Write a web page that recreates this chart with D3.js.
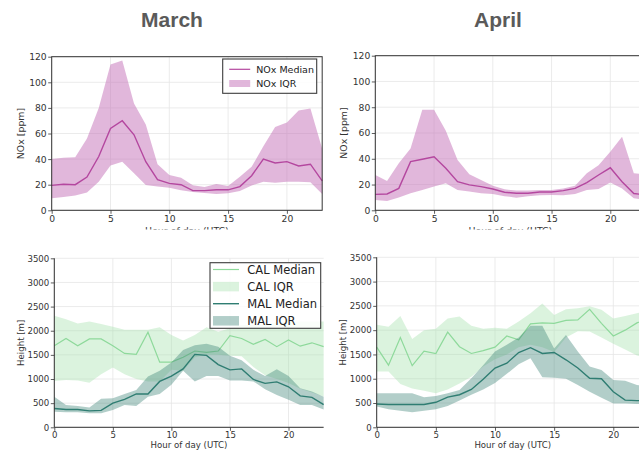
<!DOCTYPE html>
<html>
<head>
<meta charset="utf-8">
<script src="https://cdn.jsdelivr.net/npm/d3@7"></script>
<style>
  body { margin: 0; background: #fff; }
  svg { display: block; font-family: "DejaVu Sans", sans-serif; }
  .grid line { stroke: #e6e6e6; stroke-width: 0.8; }
  .axis path { display: none; }
  .axis line { stroke: #333; stroke-width: 0.8; }
  .axis text { fill: #333; }
</style>
</head>
<body>
<div id="vis"></div>
<script>
// Diurnal NOx and boundary layer height, March vs April

const HOURS = [0,1,2,3,4,5,6,7,8,9,10,11,12,13,14,15,16,17,18,19,20,21,22,23];
const X_TICKS = [0, 5, 10, 15, 20];
const NOX_TICKS = [0, 20, 40, 60, 80, 100, 120];
const HEIGHT_TICKS = [0, 500, 1000, 1500, 2000, 2500, 3000, 3500];
const MONTHS = ["March", "April"];

// NOx [ppm]
const marNoxMed = [19.5,20.3,20,26,42,64,70,59,38,24,21,20,15.4,15.4,16,16,18.5,27,40,37,38,34.6,36,23];
const marNoxHi  = [40,41,41.4,56,80,114,117,83.5,67,36,27.6,25.5,19.5,18.2,20.5,19,26.3,34,50,65,68.5,78,79.6,48];
const marNoxLo  = [9.4,10.4,11.5,14,22.4,35,38,29,19.8,18.5,17.7,15.6,14.3,13.5,12.8,13.3,15,19.3,22.4,21.6,22.4,22.4,22,12.8];

const aprNoxMed = [12.4,12.7,17,37.8,39.6,41.6,32.6,22.2,19.7,18.4,16.5,14,13.2,13.2,14.2,14.2,15.3,17,21.5,27.4,33,22.2,13,12];
const aprNoxHi  = [27.4,22.8,36.5,48,78,78,61.8,39,28,23.5,19,16.3,15.3,15.3,15.8,15.8,17,19,28.7,35,45.5,57,28.7,28];
const aprNoxLo  = [8,7.2,10,13.2,15.8,18.4,21,15.8,14.5,13.2,12.7,11,9.8,11,11.6,11.9,11.6,12.7,15.8,16.5,21.5,17,9.3,8];

// Height [m]
const marCalMed = [1690,1840,1690,1830,1830,1690,1530,1510,1970,1350,1350,1450,1580,1550,1580,1900,1840,1720,1820,1670,1810,1680,1750,1670];
const marCalHi  = [2310,2240,2150,2190,2140,2080,2020,2020,2020,2070,1910,1800,1910,2070,1980,2050,2120,2120,2140,2170,2190,2190,2190,2190];
const marCalLo  = [960,980,970,925,1100,1240,1100,1000,950,950,1190,1170,1450,1500,1500,1480,1470,1250,1080,1000,920,800,720,640];
const marMalMed = [390,370,370,340,350,500,580,690,690,950,1060,1210,1510,1490,1300,1190,1210,990,910,940,840,650,620,470];
const marMalHi  = [635,460,440,410,590,600,690,770,1050,1170,1340,1600,1700,1730,1670,1480,1390,1190,1060,1200,1060,810,740,635];
const marMalLo  = [320,310,310,290,290,360,460,440,635,690,880,1170,950,1060,1060,970,970,950,790,670,570,460,460,370];

const aprCalMed = [1650,1280,1850,1270,1570,1520,1960,1660,1520,1580,1650,1880,1800,2130,2150,2140,2200,2210,2430,2140,1880,2000,2150,2250];
const aprCalHi  = [2110,2070,2290,1820,2000,2030,2240,2280,2090,2030,2050,2030,2180,2350,2550,2310,2430,2450,2490,2420,2240,2290,2350,2400];
const aprCalLo  = [1150,1150,890,800,750,700,780,900,1040,1250,1400,1500,1650,1700,1650,1550,1850,1980,1970,1850,1720,1600,1480,1400];
const aprMalMed = [480,470,470,470,470,515,620,670,780,990,1220,1320,1540,1640,1520,1540,1390,1220,1010,1000,730,560,550,550];
const aprMalHi  = [700,700,700,700,620,645,700,770,1010,1280,1560,1700,1850,2090,2090,1620,1900,1560,1250,1180,975,960,870,850];
const aprMalLo  = [430,370,340,310,340,370,440,550,670,780,910,1100,1300,1420,1030,1020,1000,870,730,610,490,490,480,480];

const NOX_LINE = "#b4479f", NOX_FILL = "#c470b8";
const CAL_LINE = "#8ed99b", CAL_FILL = "#a6e2ad";
const MAL_LINE = "#2f7d72", MAL_FILL = "#3f8479";

const FRAME = d3.select("#vis").append("svg")
    .attr("width", 639)
    .attr("height", 452);

function rows(med, lo, hi) {
  return HOURS.map((h, i) => ({ h: h, med: med[i], lo: lo[i], hi: hi[i] }));
}

// one subplot
function drawPanel(p) {
  const X = d3.scaleLinear().domain([0, 23]).range([p.x0, p.x0 + 23 * p.pxh]);
  const Y = d3.scaleLinear().domain([0, p.yMax]).range([p.yB, p.yT]);
  const g = FRAME.append("g");

  // grid
  const grid = g.append("g").attr("class", "grid");
  grid.selectAll("vx").data(X_TICKS).enter().append("line")
      .attr("x1", d => X(d)).attr("x2", d => X(d))
      .attr("y1", p.yB).attr("y2", p.yT);
  grid.selectAll("hy").data(p.yTicks).enter().append("line")
      .attr("x1", X(0)).attr("x2", X(23))
      .attr("y1", d => Y(d)).attr("y2", d => Y(d));

  // bands and medians
  p.series.forEach(s => {
    const data = rows(s.med, s.lo, s.hi);
    g.append("path").datum(data)
      .attr("d", d3.area().x(d => X(d.h)).y0(d => Y(d.lo)).y1(d => Y(d.hi)))
      .attr("fill", s.fill).attr("fill-opacity", s.alpha);
    g.append("path").datum(data)
      .attr("d", d3.line().x(d => X(d.h)).y(d => Y(d.med)))
      .attr("fill", "none").attr("stroke", s.line).attr("stroke-width", s.lw);
  });

  // axes
  g.append("g").attr("class", "axis")
    .attr("transform", "translate(0," + p.yB + ")")
    .call(d3.axisBottom(X).tickValues(X_TICKS).tickSize(3.5).tickPadding(p.xPad).tickFormat(d3.format("d")))
    .attr("font-size", p.tickFs + "px").attr("font-family", null);
  g.append("g").attr("class", "axis")
    .attr("transform", "translate(" + X(0) + ",0)")
    .call(d3.axisLeft(Y).tickValues(p.yTicks).tickSize(3.5).tickPadding(1.5).tickFormat(d3.format("d")))
    .attr("font-size", p.tickFs + "px").attr("font-family", null);

  // spines
  if (p.box) {
    g.append("rect").attr("x", X(0)).attr("y", p.yT)
      .attr("width", X(23) - X(0)).attr("height", p.yB - p.yT)
      .attr("fill", "none").attr("stroke", "#333").attr("stroke-width", 1);
  } else {
    g.append("path")
      .attr("d", "M" + X(0) + "," + p.yT + "V" + p.yB + "H" + X(23))
      .attr("fill", "none").attr("stroke", "#333").attr("stroke-width", 1);
  }

  // labels
  g.append("text")
    .attr("transform", "translate(" + p.ylx + "," + (p.yT + p.yB) / 2 + ") rotate(-90)")
    .attr("text-anchor", "middle").attr("font-size", p.labFs + "px").attr("fill", "#333")
    .text(p.ylabel);
  g.append("text")
    .attr("x", (X(0) + X(23)) / 2).attr("y", p.xly)
    .attr("text-anchor", "middle").attr("font-size", p.labFs + "px").attr("fill", "#333")
    .text("Hour of day (UTC)");

  if (p.legend) drawLegend(p.legend);
}

function drawLegend(L) {
  const g = FRAME.append("g");
  g.append("rect").attr("x", L.x).attr("y", L.y).attr("width", L.w).attr("height", L.h)
    .attr("fill", "#fff").attr("fill-opacity", 0.85)
    .attr("stroke", "#3c3c3c").attr("stroke-width", 1.1);
  L.items.forEach((it, i) => {
    const cy = L.y + L.first + i * L.step;
    if (it.type === "line") {
      g.append("line").attr("x1", L.x + L.sx).attr("x2", L.x + L.sx + L.sw)
        .attr("y1", cy).attr("y2", cy).attr("stroke", it.color).attr("stroke-width", it.lw);
    } else {
      g.append("rect").attr("x", L.x + L.sx).attr("y", cy - L.ph / 2)
        .attr("width", L.sw).attr("height", L.ph)
        .attr("fill", it.color).attr("fill-opacity", it.alpha);
    }
    g.append("text").attr("x", L.x + L.tx).attr("y", cy).attr("dy", "0.36em")
      .attr("font-size", L.fs + "px").attr("fill", "#222").text(it.label);
  });
}

const noxMar = [{ med: marNoxMed, lo: marNoxLo, hi: marNoxHi, line: NOX_LINE, fill: NOX_FILL, alpha: 0.5, lw: 1.4 }];
const noxApr = [{ med: aprNoxMed, lo: aprNoxLo, hi: aprNoxHi, line: NOX_LINE, fill: NOX_FILL, alpha: 0.5, lw: 1.4 }];
const hMar = [
  { med: marCalMed, lo: marCalLo, hi: marCalHi, line: CAL_LINE, fill: CAL_FILL, alpha: 0.4, lw: 1.2 },
  { med: marMalMed, lo: marMalLo, hi: marMalHi, line: MAL_LINE, fill: MAL_FILL, alpha: 0.4, lw: 1.4 }
];
const hApr = [
  { med: aprCalMed, lo: aprCalLo, hi: aprCalHi, line: CAL_LINE, fill: CAL_FILL, alpha: 0.4, lw: 1.2 },
  { med: aprMalMed, lo: aprMalLo, hi: aprMalHi, line: MAL_LINE, fill: MAL_FILL, alpha: 0.4, lw: 1.4 }
];

// top row
drawPanel({ x0: 51.7, pxh: 11.76, yB: 210.3, yT: 56.7, yMax: 120, yTicks: NOX_TICKS,
  series: noxMar, box: true, tickFs: 9.2, labFs: 9.4, xPad: 1.2, ylx: 24, xly: 233.5,
  ylabel: "NOx [ppm]",
  legend: { x: 222.7, y: 59, w: 94, h: 34.3, first: 10.3, step: 14.2, sx: 6.5, sw: 21, tx: 33.5, ph: 7, fs: 9.5,
    items: [{ type: "line", label: "NOx Median", color: NOX_LINE, lw: 1.2 },
            { type: "patch", label: "NOx IQR", color: NOX_FILL, alpha: 0.5 }] } });
drawPanel({ x0: 375.3, pxh: 11.75, yB: 210.3, yT: 55.7, yMax: 120, yTicks: NOX_TICKS,
  series: noxApr, box: true, tickFs: 9.2, labFs: 9.4, xPad: 1.2, ylx: 347.3, xly: 233.5,
  ylabel: "NOx [ppm]" });

// hide the clipped part of the top x labels
FRAME.append("rect").attr("x", 0).attr("y", 229.5).attr("width", 639).attr("height", 20).attr("fill", "#fff");

// bottom row
drawPanel({ x0: 54.3, pxh: 11.71, yB: 427.3, yT: 258.3, yMax: 3500, yTicks: HEIGHT_TICKS,
  series: hMar, box: false, tickFs: 8.6, labFs: 8.6, xPad: 1, ylx: 23.7, xly: 447.5,
  ylabel: "Height [m]",
  legend: { x: 210, y: 262.7, w: 110.7, h: 65.6, first: 6.8, step: 17.1, sx: 3, sw: 26, tx: 37.3, ph: 9.5, fs: 11.5,
    items: [{ type: "line", label: "CAL Median", color: CAL_LINE, lw: 1.2 },
            { type: "patch", label: "CAL IQR", color: CAL_FILL, alpha: 0.4 },
            { type: "line", label: "MAL Median", color: MAL_LINE, lw: 1.4 },
            { type: "patch", label: "MAL IQR", color: MAL_FILL, alpha: 0.4 }] } });
drawPanel({ x0: 376.7, pxh: 11.83, yB: 427.3, yT: 257.3, yMax: 3500, yTicks: HEIGHT_TICKS,
  series: hApr, box: false, tickFs: 8.6, labFs: 8.6, xPad: 1, ylx: 346.3, xly: 447.5,
  ylabel: "Height [m]" });

// month titles
FRAME.selectAll("titles").data(MONTHS).enter().append("text")
  .attr("x", (d, i) => [172, 498][i]).attr("y", 26.5)
  .attr("text-anchor", "middle")
  .attr("font-family", "'Liberation Sans', Arial, sans-serif")
  .attr("font-weight", "bold").attr("font-size", "21px").attr("fill", "#5a5a5a")
  .text(d => d);
</script>
</body>
</html>
